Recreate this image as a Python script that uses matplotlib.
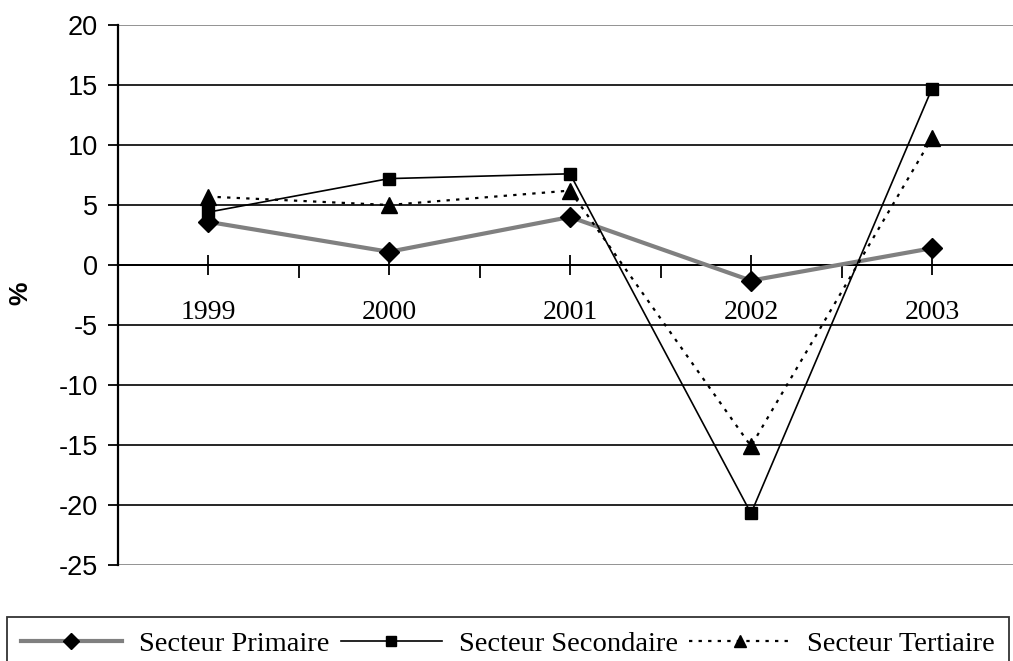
import numpy as np
import matplotlib
matplotlib.use("Agg")
import matplotlib.pyplot as plt
from matplotlib.ticker import FixedLocator

# data
years = ["1999", "2000", "2001", "2002", "2003"]
primaire = [3.6, 1.1, 4.0, -1.3, 1.4]
secondaire = [4.4, 7.2, 7.6, -20.7, 14.7]
tertiaire = [5.7, 5.0, 6.2, -15.1, 10.6]
y_ticks = [20, 15, 10, 5, 0, -5, -10, -15, -20, -25]

fig = plt.figure(figsize=(10.13, 6.61), dpi=100)
# axes run a little past the right edge of the picture, as in the source
ax = fig.add_axes([117.5 / 1013, 1 - 565 / 661, 905 / 1013, 540 / 661])

x = np.arange(len(years))

# horizontal grid lines (outer ones grey)
for v in y_ticks:
    col = "#808080" if v in (20, -25) else "black"
    ax.axhline(v, color=col, lw=1.2, zorder=1)

ax.plot(x, primaire, color="#808080", lw=3, marker="D", ms=10,
        mfc="black", mec="black", label="Secteur Primaire", zorder=3)
ax.plot(x, secondaire, color="black", lw=1.2, marker="s", ms=9,
        mfc="black", mec="black", label="Secteur Secondaire", zorder=4)
ax.plot(x, tertiaire, color="black", lw=1.6, ls=(0, (1.5, 2.8)), marker="^", ms=11,
        mfc="black", mec="black", label="Secteur Tertiaire", zorder=4)

ax.set_xlim(-0.5, len(years) - 0.5)
ax.set_ylim(-25, 20)

for s in ["top", "right"]:
    ax.spines[s].set_visible(False)
ax.spines["left"].set_linewidth(1.6)
ax.spines["bottom"].set_position(("data", 0))
ax.spines["bottom"].set_linewidth(1.4)

ax.set_yticks(y_ticks)
ax.set_yticklabels([str(v) for v in y_ticks], fontfamily="Liberation Sans", fontsize=19.5)
ax.tick_params(axis="y", direction="out", length=7, width=1.3, pad=7)

ax.set_xticks(x)
ax.set_xticklabels(years, fontfamily="Liberation Serif", fontsize=20)
ax.xaxis.set_minor_locator(FixedLocator([0.5, 1.5, 2.5, 3.5]))
ax.tick_params(axis="x", which="major", direction="inout", length=14, width=1.3, pad=18)
ax.tick_params(axis="x", which="minor", direction="out", length=9, width=1.3)

fig.text(20 / 1013, 1 - 293 / 661, "%", rotation=90, ha="center", va="center",
         fontfamily="Liberation Sans", fontsize=19, fontweight="bold")

leg = fig.legend(loc="upper center", bbox_to_anchor=(508 / 1013, 1 - 617 / 661), ncol=3,
                 frameon=True, fancybox=False, edgecolor="black", handlelength=3.55,
                 columnspacing=0.4, handletextpad=0.6, borderpad=0.5, borderaxespad=0,
                 markerscale=0.8, prop={"family": "Liberation Serif", "size": 20.5})
leg.get_frame().set_linewidth(1.3)

fig.savefig("out.png", dpi=100)
